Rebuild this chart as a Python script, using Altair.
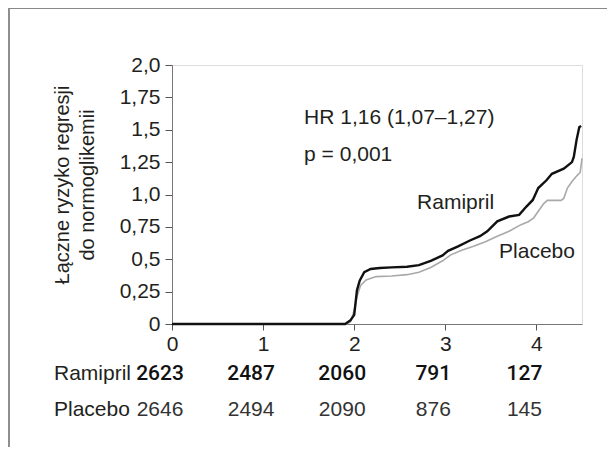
import altair as alt
import pandas as pd

FONT = "Liberation Sans, Arial, Helvetica, sans-serif"
TXT = "#231f20"

# Cumulative hazard curves (years, value)
ram_t = [0, 1.90, 1.96, 2.00, 2.03, 2.06, 2.11, 2.18, 2.28, 2.41, 2.58, 2.71, 2.84, 2.97, 3.03,
         3.14, 3.27, 3.38, 3.46, 3.57, 3.70, 3.81, 3.89, 3.96, 4.02, 4.11, 4.17, 4.30, 4.39,
         4.41, 4.44, 4.47, 4.49]
ram_v = [0, 0, 0.03, 0.07, 0.26, 0.335, 0.40, 0.425, 0.432, 0.437, 0.442, 0.455, 0.488, 0.53, 0.565,
         0.60, 0.645, 0.678, 0.716, 0.793, 0.83, 0.843, 0.907, 0.958, 1.05, 1.11, 1.16, 1.20, 1.25,
         1.29, 1.42, 1.52, 1.53]
pla_t = [0, 1.92, 1.96, 2.00, 2.03, 2.07, 2.13, 2.24, 2.41, 2.58, 2.71, 2.84, 2.97, 3.06, 3.18,
         3.31, 3.44, 3.57, 3.70, 3.83, 3.91, 3.97, 4.02, 4.08, 4.12, 4.17, 4.27, 4.30, 4.34,
         4.39, 4.45, 4.48, 4.50]
pla_v = [0, 0, 0.018, 0.107, 0.21, 0.297, 0.34, 0.366, 0.371, 0.381, 0.40, 0.437, 0.488, 0.534, 0.569,
         0.60, 0.635, 0.678, 0.716, 0.767, 0.79, 0.82, 0.87, 0.93, 0.955, 0.955, 0.955, 0.97, 1.05,
         1.10, 1.15, 1.17, 1.28]

# Axis ticks
x_ticks = [0, 1, 2, 3, 4]
y_ticks = [0, 0.25, 0.5, 0.75, 1.0, 1.25, 1.5, 1.75, 2.0]
y_tick_labels = ["0", "0,25", "0,5", "0,75", "1,0", "1,25", "1,5", "1,75", "2,0"]

# Numbers at risk
risk_years = [0, 1, 2, 3, 4]
risk_ramipril = [2623, 2487, 2060, 791, 127]
risk_placebo = [2646, 2494, 2090, 876, 145]

# Annotations
groups = ["Ramipril", "Placebo"]
y_title = ["Łączne ryzyko regresji", "do normoglikemii"]
hr_text = "HR 1,16 (1,07–1,27)"
p_text = "p = 0,001"

curves = pd.DataFrame(
    {"t": ram_t + pla_t, "v": ram_v + pla_v,
     "g": ["Ramipril"] * len(ram_t) + ["Placebo"] * len(pla_t)}
)
ram_df = curves[curves.g == "Ramipril"]
pla_df = curves[curves.g == "Placebo"]

label_expr = " : ".join(
    f"abs(datum.value - {v}) < 0.001 ? '{l}'" for v, l in zip(y_ticks, y_tick_labels)
) + " : ''"

xscale = alt.Scale(domain=[0, 4.5], nice=False, zero=False)
yscale = alt.Scale(domain=[0, 2.0], nice=False)

xaxis = alt.Axis(values=x_ticks, title=None, grid=False, labelFont=FONT, labelFontSize=21,
                 labelColor=TXT, labelPadding=3, tickSize=6, tickColor="#555",
                 domainColor="#777", labelFlush=False, labelOverlap=False, format="d")
yaxis = alt.Axis(values=y_ticks, title=None, grid=False, labelFont=FONT, labelFontSize=21,
                 labelColor=TXT, labelPadding=5, tickSize=7, tickColor="#555",
                 domainColor="#777", labelExpr=label_expr, labelFlush=False,
                 labelOverlap=False)

X = lambda f: alt.X(f, scale=xscale, axis=xaxis)
Y = lambda f: alt.Y(f, scale=yscale, axis=yaxis)

pla_line = alt.Chart(pla_df).mark_line(color="#a9a9a9", strokeWidth=1.6).encode(
    x=X("t:Q"), y=Y("v:Q"))
ram_line = alt.Chart(ram_df).mark_line(color="#111111", strokeWidth=2.4).encode(
    x=X("t:Q"), y=Y("v:Q"))

one = pd.DataFrame({"a": [0]})

def txt(text, x, y, size=21, align="left", weight="normal", angle=0):
    kw = dict(font=FONT, fontSize=size, color=TXT, align=align, baseline="middle",
              fontWeight=weight)
    if angle:
        kw["angle"] = angle
    return alt.Chart(one).mark_text(**kw).encode(
        x=alt.value(x), y=alt.value(y), text=alt.value(text))

# annotations in data coordinates
ann = pd.DataFrame({
    "t": [1.45, 1.45, 2.69, 3.59],
    "v": [1.59, 1.305, 0.934, 0.556],
    "label": [hr_text, p_text, groups[0], groups[1]],
})
ann_layer = alt.Chart(ann).mark_text(font=FONT, fontSize=21, color=TXT, align="left",
                                     baseline="middle").encode(
    x=X("t:Q"), y=Y("v:Q"), text="label:N")

risk = pd.DataFrame({"yr": risk_years, "ram": risk_ramipril, "pla": risk_placebo})
risk_ram = alt.Chart(risk).mark_text(font="Roboto, " + FONT, fontSize=21, color="#111",
                                     fontWeight=500, baseline="middle", dx=-12).encode(
    x=X("yr:Q"), y=alt.value(308.5), text="ram:Q")
risk_pla = alt.Chart(risk).mark_text(font=FONT, fontSize=21, color="#333",
                                     baseline="middle", dx=-12).encode(
    x=X("yr:Q"), y=alt.value(345), text="pla:Q")

row_ram = txt(groups[0], -118, 308.5)
row_pla = txt(groups[1], -118, 345)

title1 = txt(y_title[0], -109, 120, size=20, align="center", angle=270)
title2 = txt(y_title[1], -84, 120, size=20, align="center", angle=270)

frame_left = alt.Chart(one).mark_rule(color="#444", strokeWidth=1.2).encode(
    x=alt.value(-163), y=alt.value(-57), y2=alt.value(400))
frame_top = alt.Chart(one).mark_rule(color="#888", strokeWidth=2).encode(
    x=alt.value(-163), x2=alt.value(500), y=alt.value(-57))

chart = alt.layer(
    frame_left, frame_top, pla_line, ram_line, ann_layer, risk_ram, risk_pla,
    row_ram, row_pla, title1, title2,
).properties(
    width=410, height=259,
    autosize=alt.AutoSizeParams(type="none"),
    padding={"left": 164, "top": 57, "right": 25, "bottom": 123},
).configure_view(stroke=None).configure(background="white")

chart.save("out.html", embed_options={"renderer": "svg", "actions": False})
